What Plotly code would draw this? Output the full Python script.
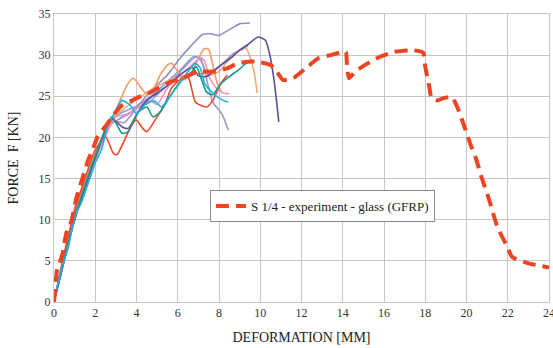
import plotly.graph_objects as go

# Main experiment curve (S 1/4 - experiment - glass (GFRP))
main_x = [0, 0.15, 0.4, 0.6, 0.85, 1.1, 1.35, 1.65, 1.9, 2.1, 2.6, 3.0, 3.3, 3.8, 4.1, 4.7, 5.5, 6.3, 7.0, 7.7,
          8.4, 8.9, 9.4, 9.85, 10.5, 10.8, 11.1, 11.6, 12.3, 12.8, 13.4, 14.0, 14.15, 14.2, 14.3, 14.6, 15.2, 15.8,
          16.5, 17.4, 17.9, 18.0, 18.2, 18.3, 18.6, 18.9, 19.3, 19.55, 19.9, 20.2, 20.45, 20.7, 21.1, 21.5, 22.0,
          22.2, 23.0, 24.0]
main_y = [0, 3.9, 5.7, 8.4, 9.9, 12.8, 14.8, 17.2, 18.7, 20.0, 21.7, 23.1, 23.9, 24.5, 24.9, 25.5, 26.6, 27.3, 28.0,
          28.0, 28.4, 29.0, 29.2, 29.2, 28.8, 28.0, 27.0, 27.2, 28.6, 29.6, 30.0, 30.4, 30.4, 29.0, 27.2, 28.0, 29.0,
          29.8, 30.4, 30.6, 30.3, 28.6, 26.1, 24.8, 24.5, 24.8, 24.9, 23.7, 21.3, 19.1, 17.5, 15.4, 12.4, 9.1, 6.6,
          5.5, 4.7, 4.2]

# Individual specimen curves
red_x = [0, 0.5, 1.0, 1.5, 2.0, 2.5, 2.87, 3.05, 3.35, 3.8, 4.0, 4.3, 4.5, 4.9, 5.4, 5.7, 6.1, 6.45, 6.6, 6.85,
         7.1, 7.4, 7.7, 8.05, 8.4]
red_y = [0, 6.0, 11.0, 15.0, 18.5, 20.1, 18.1, 17.9, 19.3, 21.7, 22.1, 21.1, 20.7, 22.1, 24.2, 26.0, 27.0, 27.6,
         26.7, 24.3, 23.9, 23.7, 24.5, 26.4, 27.6]

orange_a_x = [0, 1.0, 1.5, 2.0, 2.5, 2.87, 3.2, 3.6, 3.85, 4.2, 4.5, 4.8, 5.15, 5.5, 5.7, 6.0, 6.3, 6.7, 7.0, 7.3,
              7.5, 7.7, 7.9, 8.1]
orange_a_y = [0, 10.5, 14.5, 18.0, 20.5, 22.5, 24.5, 26.6, 27.2, 26.1, 25.3, 25.8, 27.6, 28.8, 29.0, 28.0, 27.0,
              28.0, 29.6, 30.8, 30.7, 28.8, 26.7, 25.6]

orange_b_x = [0, 1.0, 2.0, 3.0, 4.0, 5.0, 6.0, 7.0, 7.6, 8.0, 8.5, 9.0, 9.3, 9.5, 9.7, 9.85]
orange_b_y = [0, 10.3, 17.3, 22.6, 24.6, 26.2, 27.3, 27.8, 27.6, 28.0, 29.5, 30.6, 30.9, 29.8, 28.0, 25.4]

lav_top_x = [0, 1.0, 2.0, 2.7, 3.2, 3.7, 4.2, 4.66, 5.5, 6.1, 6.6, 7.2, 7.6, 8.0, 8.5, 9.0, 9.5]
lav_top_y = [0, 10.0, 17.2, 21.5, 22.3, 23.0, 24.2, 25.6, 27.6, 29.6, 31.0, 32.5, 32.6, 32.4, 33.1, 33.8, 33.9]

lav_fall_x = [0, 1.0, 2.0, 2.8, 3.4, 4.0, 4.6, 5.0, 5.6, 6.2, 6.9, 7.2, 7.5, 7.7, 8.15, 8.45]
lav_fall_y = [0, 10.2, 17.6, 22.0, 21.8, 23.5, 24.2, 25.2, 26.6, 28.2, 29.8, 29.0, 26.0, 24.3, 22.8, 20.9]

dpurple_x = [0, 1.0, 2.0, 2.8, 3.35, 3.6, 4.1, 4.5, 5.0, 5.5, 6.1, 6.7, 7.0, 7.4, 8.0, 8.55, 9.0, 9.35, 9.9,
             10.25, 10.45, 10.65, 10.8, 10.9]
dpurple_y = [0, 10.0, 17.5, 22.2, 21.2, 21.1, 23.2, 24.5, 25.4, 26.3, 27.6, 28.5, 27.5, 27.4, 28.6, 29.6, 30.6,
             31.2, 32.2, 31.8, 30.2, 27.3, 24.2, 21.9]

teal_x = [0, 1.0, 2.0, 2.8, 3.3, 3.6, 4.1, 4.5, 4.8, 5.15, 5.6, 6.1, 6.7, 6.9, 7.2, 7.4, 7.7, 8.05, 8.4, 8.95,
          9.4, 9.6]
teal_y = [0, 10.2, 17.8, 22.5, 20.5, 20.7, 23.1, 23.7, 22.5, 23.1, 24.9, 26.7, 28.0, 28.6, 26.7, 25.5, 25.2,
          26.4, 27.2, 28.2, 29.2, 29.4]

cyan_x = [0, 0.3, 0.7, 1.0, 1.35, 1.6, 2.0, 2.3, 2.6, 3.0, 3.3, 3.7, 4.0, 4.5, 4.9, 5.2, 5.6, 6.1, 6.5, 6.85,
          7.1, 7.3, 7.7, 8.2, 8.45]
cyan_y = [0, 3.5, 6.7, 10.3, 12.2, 14.0, 16.9, 18.5, 21.3, 23.3, 24.5, 23.9, 22.9, 24.2, 24.4, 23.7, 24.9, 26.6,
          28.0, 29.0, 28.4, 26.6, 25.4, 24.5, 24.3]

pink_x = [0, 0.5, 1.0, 1.3, 1.7, 2.0, 2.6, 3.0, 3.5, 4.0, 4.66, 5.0, 5.5, 6.0, 6.6, 7.1, 7.3, 7.5, 7.8, 8.2, 8.5]
pink_y = [0, 5.0, 11.5, 13.5, 15.8, 17.5, 20.8, 22.5, 22.8, 23.5, 24.5, 24.0, 26.0, 27.3, 28.6, 29.7, 29.3,
          27.5, 26.2, 25.4, 25.3]

lblue_x = [0, 1.0, 2.0, 3.0, 4.0, 4.8, 5.5, 6.2, 6.75, 7.1, 7.4, 8.0, 8.7, 9.2, 9.4]
lblue_y = [0, 10.0, 17.5, 22.6, 23.8, 25.2, 26.8, 28.4, 29.8, 29.6, 27.8, 28.6, 30.2, 30.8, 31.2]

x_ticks = list(range(0, 25, 2))
y_ticks = list(range(0, 36, 5))

fig = go.Figure()

thin = [
    (lblue_x, lblue_y, "#7fa6d8"),
    (lav_top_x, lav_top_y, "#9c8ac6"),
    (lav_fall_x, lav_fall_y, "#a593cc"),
    (orange_b_x, orange_b_y, "#f8a876"),
    (orange_a_x, orange_a_y, "#f59a62"),
    (pink_x, pink_y, "#f090c4"),
    (dpurple_x, dpurple_y, "#5f4d94"),
    (red_x, red_y, "#ee4a2a"),
    (teal_x, teal_y, "#179a86"),
    (cyan_x, cyan_y, "#1db2e6"),
]
for xs, ys, c in thin:
    fig.add_trace(go.Scatter(x=xs, y=ys, mode="lines", showlegend=False,
                             line=dict(color=c, width=1.6, shape="spline", smoothing=0.6),
                             hoverinfo="skip"))

fig.add_trace(go.Scatter(x=main_x, y=main_y, mode="lines",
                         name="S 1/4 - experiment - glass (GFRP)",
                         line=dict(color="#ee4423", width=4, dash="13px,7px", shape="spline", smoothing=0.5)))

serif = "Liberation Serif, Times New Roman, serif"
grid = "#c6c6c6"
fig.update_layout(
    width=553, height=348,
    margin=dict(l=54, r=4, t=14, b=46),
    paper_bgcolor="white", plot_bgcolor="white",
    font=dict(family=serif, size=12, color="#333"),
    legend=dict(x=0.315, y=0.389, xanchor="left", yanchor="top",
                bordercolor="#8a8a8a", borderwidth=1, bgcolor="white",
                font=dict(family=serif, size=13, color="#222"),
                itemwidth=30),
    xaxis=dict(range=[0, 24], tickvals=x_ticks, showgrid=True, gridcolor=grid, gridwidth=1,
               showline=True, linecolor=grid, mirror=True, zeroline=False, ticks="",
               ticklabeloverflow="allow", automargin=False,
               tickfont=dict(family=serif, size=12, color="#333"),
               title=dict(text="DEFORMATION [MM]", font=dict(family=serif, size=14, color="#222"),
                          standoff=12)),
    yaxis=dict(range=[0, 35], tickvals=y_ticks, showgrid=True, gridcolor=grid, gridwidth=1,
               showline=True, linecolor=grid, mirror=True, zeroline=False, ticks="",
               automargin=False,
               tickfont=dict(family=serif, size=12, color="#333"),
               title=dict(text="FORCE  F [KN]", font=dict(family=serif, size=14, color="#222"),
                          standoff=16)),
)

fig.write_html("out.html")
